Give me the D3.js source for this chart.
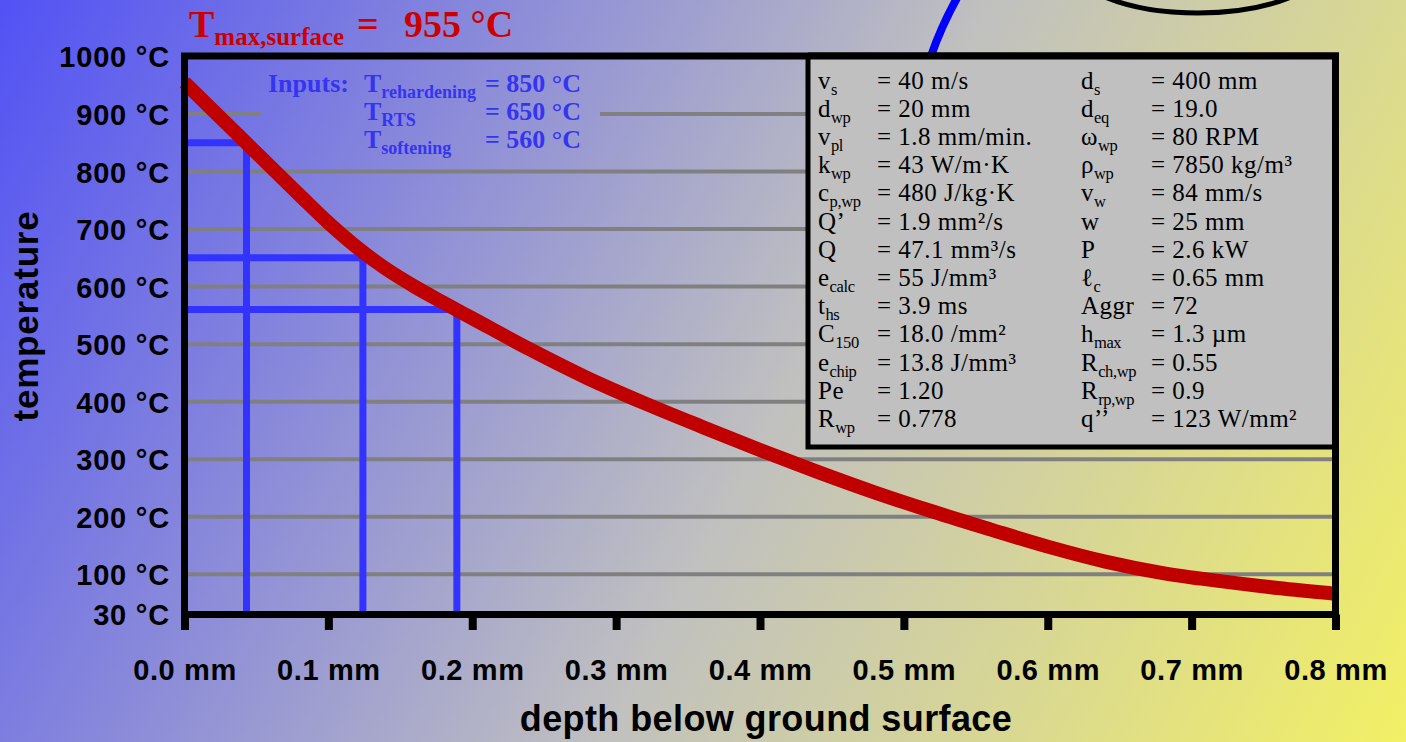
<!DOCTYPE html>
<html>
<head>
<meta charset="utf-8">
<script src="https://cdn.jsdelivr.net/npm/d3@7"></script>
<style>
  body { margin: 0; overflow: hidden; }
  svg { display: block; }
</style>
</head>
<body>
<div id="chart"></div>
<script>
// Temperature profile below the ground surface
const depthMm = [0, 0.04, 0.08, 0.10, 0.12, 0.14, 0.16, 0.18, 0.20, 0.24, 0.28, 0.32, 0.36, 0.40,
                 0.44, 0.48, 0.52, 0.56, 0.60, 0.64, 0.68, 0.72, 0.76, 0.80];
const tempC   = [955, 857, 759, 711, 668, 631, 600, 572, 545, 491, 441, 397, 356, 316,
                 278, 242, 209, 178, 148, 122, 102, 88, 76, 66];

// Input thresholds and where the curve crosses them
const inputNames  = ['rehardening', 'RTS', 'softening'];
const inputTemps  = [850, 650, 560];
const inputDepths = [0.0431, 0.124, 0.1893];

const xTicks = [0, 0.1, 0.2, 0.3, 0.4, 0.5, 0.6, 0.7, 0.8];
const yTicks = [30, 100, 200, 300, 400, 500, 600, 700, 800, 900, 1000];
const gridTicks = [100, 200, 300, 400, 500, 600, 700, 800, 900];

// Parameter table
const leftNames  = [['v','s'], ['d','wp'], ['v','pl'], ['k','wp'], ['c','p,wp'], ['Q’',''], ['Q',''],
                    ['e','calc'], ['t','hs'], ['C','150'], ['e','chip'], ['Pe',''], ['R','wp']];
const leftValues = ['= 40 m/s', '= 20 mm', '= 1.8 mm/min.', '= 43 W/m·K', '= 480 J/kg·K', '= 1.9 mm²/s',
                    '= 47.1 mm³/s', '= 55 J/mm³', '= 3.9 ms', '= 18.0 /mm²', '= 13.8 J/mm³', '= 1.20', '= 0.778'];
const rightNames  = [['d','s'], ['d','eq'], ['ω','wp'], ['ρ','wp'], ['v','w'], ['w',''], ['P',''],
                     ['ℓ','c'], ['Aggr',''], ['h','max'], ['R','ch,wp'], ['R','rp,wp'], ['q’’','']];
const rightValues = ['= 400 mm', '= 19.0', '= 80 RPM', '= 7850 kg/m³', '= 84 mm/s', '= 25 mm', '= 2.6 kW',
                     '= 0.65 mm', '= 72', '= 1.3 µm', '= 0.55', '= 0.9', '= 123 W/mm²'];

const W = 1406, H = 742;
const sans = '"Liberation Sans", Arial, Helvetica, sans-serif';
const serif = '"Liberation Serif", "Times New Roman", Times, serif';

const svg = d3.select('#chart')
  .append('svg')
  .attr('width', W)
  .attr('height', H);

// Background gradient (blue -> grey -> yellow, diagonal)
const defs = svg.append('defs');
const grad = defs.append('linearGradient')
  .attr('id', 'bg')
  .attr('gradientUnits', 'userSpaceOnUse')
  .attr('x1', 0).attr('y1', 0)
  .attr('x2', W).attr('y2', H);
grad.append('stop').attr('offset', 0).attr('stop-color', '#5252f5');
grad.append('stop').attr('offset', 0.55).attr('stop-color', '#c0c0c0');
grad.append('stop').attr('offset', 1).attr('stop-color', '#f2f064');

svg.append('rect')
  .attr('width', W)
  .attr('height', H)
  .attr('fill', 'url(#bg)');

// Scales
const x = d3.scaleLinear().domain([0, 0.8]).range([184.5, 1335.5]);
const y = d3.scaleLinear().domain([30, 1000]).range([614.5, 56.5]);

// Fragments of neighbouring drawing at the top
svg.append('path')
  .attr('d', 'M931,56 Q941,27 957,-2')
  .attr('fill', 'none')
  .attr('stroke', '#0000ff')
  .attr('stroke-width', 8);

svg.append('ellipse')
  .attr('cx', 1198).attr('cy', -42)
  .attr('rx', 132).attr('ry', 55)
  .attr('fill', 'none')
  .attr('stroke', '#000')
  .attr('stroke-width', 5);

// Gridlines
svg.append('g')
  .selectAll('line')
  .data(gridTicks)
  .join('line')
  .attr('x1', x(0))
  .attr('x2', x(0.8))
  .attr('y1', d => y(d))
  .attr('y2', d => y(d))
  .attr('stroke', '#808080')
  .attr('stroke-width', 4);

// Opaque patch behind the inputs text
svg.append('rect')
  .attr('x', 261).attr('y', 66)
  .attr('width', 339).attr('height', 92)
  .attr('fill', 'url(#bg)');

// Blue threshold lines
const blue = '#3333ff';
svg.append('g')
  .selectAll('path')
  .data(inputTemps.map((t, i) => ({ t, d: inputDepths[i] })))
  .join('path')
  .attr('d', p => `M${x(0)},${y(p.t)}H${x(p.d)}V${y(30)}`)
  .attr('fill', 'none')
  .attr('stroke', blue)
  .attr('stroke-width', 7);

// Temperature curve
const line = d3.line()
  .x((d, i) => x(depthMm[i]))
  .y(d => y(d))
  .curve(d3.curveMonotoneX);

svg.append('path')
  .datum(tempC)
  .attr('d', line)
  .attr('fill', 'none')
  .attr('stroke', '#c00000')
  .attr('stroke-width', 14)
  .attr('stroke-linejoin', 'round');

// Frame
svg.append('rect')
  .attr('x', x(0)).attr('y', y(1000) - 0.5)
  .attr('width', x(0.8) - x(0))
  .attr('height', y(30) - y(1000) + 0.5)
  .attr('fill', 'none')
  .attr('stroke', '#000')
  .attr('stroke-width', 7);

// X axis
const xAxis = svg.append('g')
  .attr('transform', `translate(0,${y(30)})`)
  .call(d3.axisBottom(x).tickValues(xTicks).tickSize(15.5).tickFormat(d => d.toFixed(1) + ' mm'));
xAxis.select('.domain').remove();
xAxis.selectAll('.tick line').attr('stroke', '#000').attr('stroke-width', 8);
xAxis.selectAll('.tick text')
  .attr('y', 65.5)
  .attr('dy', 0)
  .attr('fill', '#000')
  .style('font-family', sans)
  .style('font-weight', 'bold')
  .style('font-size', '29px')
  .style('letter-spacing', '0.6px');

// Y axis labels
const yAxis = svg.append('g')
  .attr('transform', `translate(${x(0)},0)`)
  .call(d3.axisLeft(y).tickValues(yTicks).tickSize(0).tickPadding(14.5).tickFormat(d => d + ' °C'));
yAxis.select('.domain').remove();
yAxis.selectAll('.tick text')
  .attr('dy', '0.36em')
  .attr('fill', '#000')
  .style('font-family', sans)
  .style('font-weight', 'bold')
  .style('font-size', '29px')
  .style('letter-spacing', '0.8px');

// Axis titles
svg.append('text')
  .attr('x', (x(0) + x(0.8)) / 2 + 6)
  .attr('y', 731)
  .attr('text-anchor', 'middle')
  .style('font-family', sans)
  .style('font-weight', 'bold')
  .style('font-size', '36px')
  .style('letter-spacing', '0.4px')
  .text('depth below ground surface');

svg.append('text')
  .attr('transform', 'translate(38,316) rotate(-90)')
  .attr('text-anchor', 'middle')
  .style('font-family', sans)
  .style('font-weight', 'bold')
  .style('font-size', '35px')
  .style('letter-spacing', '0.8px')
  .text('temperature');

// Title: maximum surface temperature
const title = svg.append('text')
  .attr('fill', '#cc0000')
  .style('font-family', serif)
  .style('font-weight', 'bold')
  .style('font-size', '38px');
title.append('tspan').attr('x', 189).attr('y', 37).text('T');
title.append('tspan').attr('y', 45).style('font-size', '25px').text('max,surface');
title.append('tspan').attr('x', 357).attr('y', 37).text('=');
title.append('tspan').attr('x', 404).attr('y', 37).text(d3.max(tempC) + ' °C');

// Inputs block
const inputs = svg.append('g')
  .attr('fill', '#3535f0')
  .style('font-family', serif)
  .style('font-weight', 'bold')
  .style('font-size', '26px');
inputs.append('text').attr('x', 268).attr('y', 92).text('Inputs:');
inputNames.forEach((name, i) => {
  const base = 92 + i * 28;
  const t = inputs.append('text').attr('x', 364).attr('y', base);
  t.append('tspan').text('T');
  t.append('tspan').attr('dy', 6).style('font-size', '18px').text(name);
  inputs.append('text').attr('x', 485).attr('y', base).text('= ' + inputTemps[i] + ' °C');
});

// Parameter box
svg.append('rect')
  .attr('x', 808).attr('y', 56)
  .attr('width', x(0.8) - 808)
  .attr('height', 447 - 56)
  .attr('fill', '#c0c0c0')
  .attr('stroke', '#000')
  .attr('stroke-width', 5);

// redraw top/right of frame over box border
svg.append('path')
  .attr('d', `M808,${y(1000) - 0.5}H${x(0.8)}V447`)
  .attr('fill', 'none')
  .attr('stroke', '#000')
  .attr('stroke-width', 7);

function paramColumn(names, values, xName, xValue) {
  const g = svg.append('g')
    .attr('fill', '#000')
    .style('font-family', serif)
    .style('font-size', '25px')
    .style('letter-spacing', '0.5px');
  names.forEach((n, i) => {
    const base = 88.5 + i * 28.2;
    const t = g.append('text').attr('x', xName).attr('y', base);
    t.append('tspan').text(n[0]);
    if (n[1]) t.append('tspan').attr('dy', 6).style('font-size', '16.5px').style('letter-spacing', '-0.4px').text(n[1]);
    g.append('text').attr('x', xValue).attr('y', base).text(values[i]);
  });
}
paramColumn(leftNames, leftValues, 818, 877);
paramColumn(rightNames, rightValues, 1081, 1151);
</script>
</body>
</html>
